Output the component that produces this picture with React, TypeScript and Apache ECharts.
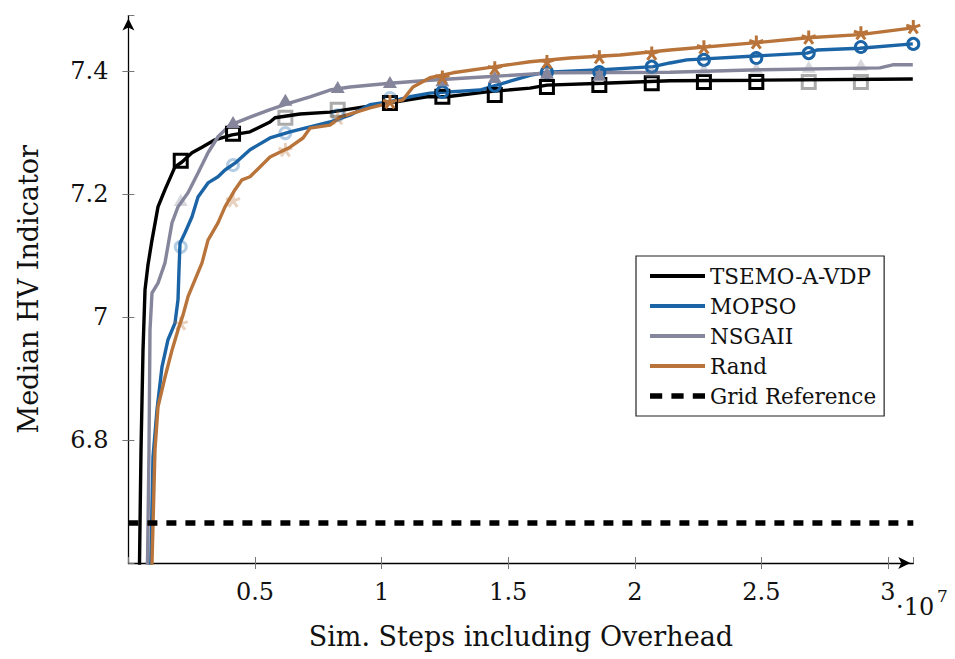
import React, { useEffect, useRef } from "react";
import * as echarts from "echarts";

// x values are in millions of simulation steps
const X_UNIT = 1e6;

const TSEMO_X = [0.419, 0.498, 0.577, 0.656, 0.774, 0.932, 1.169, 1.445, 1.84, 2.117, 2.512, 2.907, 3.42, 4.092, 4.803, 5.593, 5.79, 6.777, 7.961, 10.33, 11.79, 12.58, 14.16, 15.86, 16.53, 18.74, 21.39, 24.94, 30.98];
const TSEMO_Y = [6.54, 6.784, 6.946, 7.044, 7.085, 7.125, 7.179, 7.207, 7.244, 7.252, 7.267, 7.276, 7.288, 7.296, 7.301, 7.317, 7.324, 7.33, 7.333, 7.348, 7.358, 7.358, 7.366, 7.372, 7.377, 7.38, 7.384, 7.385, 7.387];

const MOPSO_X = [0.853, 0.972, 1.129, 1.327, 1.564, 1.84, 1.959, 1.998, 2.038, 2.235, 2.512, 2.749, 3.144, 3.539, 3.815, 4.21, 4.803, 5.593, 6.383, 7.172, 7.961, 8.751, 9.541, 10.33, 11.12, 11.91, 13.88, 14.55, 15.86, 16.53, 18.74, 20.72, 21.39, 22.06, 26.8, 27.19, 28.89, 30.98];
const MOPSO_Y = [6.54, 6.772, 6.849, 6.919, 6.963, 6.99, 7.028, 7.076, 7.12, 7.137, 7.163, 7.195, 7.218, 7.228, 7.239, 7.25, 7.272, 7.291, 7.301, 7.309, 7.317, 7.328, 7.345, 7.35, 7.358, 7.364, 7.369, 7.377, 7.393, 7.398, 7.402, 7.407, 7.413, 7.418, 7.429, 7.434, 7.437, 7.444];

const NSGA_X = [0.735, 0.814, 0.853, 0.932, 1.169, 1.445, 1.722, 1.959, 2.354, 2.749, 3.144, 3.539, 4.013, 4.803, 5.593, 6.383, 7.172, 7.961, 8.751, 10.33, 11.91, 13.49, 16.77, 21.39, 24.94, 29.68, 30.19, 30.98];
const NSGA_Y = [6.54, 6.784, 6.979, 7.039, 7.055, 7.088, 7.153, 7.179, 7.202, 7.234, 7.267, 7.293, 7.312, 7.325, 7.337, 7.348, 7.358, 7.369, 7.374, 7.38, 7.385, 7.389, 7.397, 7.398, 7.402, 7.405, 7.41, 7.41];

const RAND_X = [0.893, 1.05, 1.169, 1.445, 1.722, 1.959, 2.156, 2.354, 2.907, 3.144, 3.539, 3.815, 4.21, 4.487, 4.803, 5.593, 6.383, 6.896, 7.172, 7.961, 8.356, 9.541, 10.33, 10.84, 11.24, 11.91, 12.82, 14.16, 15.86, 17.44, 19.41, 21.39, 24.82, 26.84, 28.89, 30.98];
const RAND_Y = [6.54, 6.784, 6.854, 6.902, 6.946, 6.979, 7.003, 7.033, 7.088, 7.125, 7.153, 7.179, 7.207, 7.223, 7.228, 7.26, 7.276, 7.291, 7.307, 7.312, 7.325, 7.34, 7.348, 7.353, 7.374, 7.389, 7.397, 7.405, 7.415, 7.421, 7.426, 7.434, 7.446, 7.454, 7.459, 7.47];

const GRID_REF_Y = 6.665;

// marker positions (millions of steps)
const MARKER_X = [2.067, 4.133, 6.2, 8.267, 10.33, 12.4, 14.47, 16.53, 18.6, 20.67, 22.73, 24.8, 26.87, 28.93, 31.0];
const TSEMO_MK_Y = [7.254, 7.298, 7.324, 7.337, 7.348, 7.358, 7.361, 7.374, 7.377, 7.38, 7.382, 7.382, 7.382, 7.382];
const TSEMO_MK_ON = [1, 1, 0, 0, 1, 1, 1, 1, 1, 1, 1, 1, 0, 0];
const MOPSO_MK_Y = [7.114, 7.247, 7.299, 7.328, 7.356, 7.366, 7.376, 7.398, 7.398, 7.407, 7.418, 7.421, 7.429, 7.439, 7.444];
const MOPSO_MK_ON = [0, 0, 0, 0, 0, 1, 1, 1, 1, 1, 1, 1, 1, 1, 1];
const NSGA_MK_Y = [7.19, 7.317, 7.353, 7.374, 7.382, 7.385, 7.39, 7.397, 7.394, 7.4, 7.403, 7.405, 7.407, 7.41];
const NSGA_MK_ON = [0, 1, 1, 1, 1, 1, 1, 1, 1, 0, 0, 0, 0, 0];
const RAND_MK_Y = [6.99, 7.19, 7.272, 7.324, 7.35, 7.39, 7.405, 7.415, 7.423, 7.429, 7.439, 7.447, 7.455, 7.462, 7.472];
const RAND_MK_ON = [0, 0, 0, 0, 1, 1, 1, 1, 1, 1, 1, 1, 1, 1, 1];

const NAMES = ["TSEMO-A-VDP", "MOPSO", "NSGAII", "Rand", "Grid Reference"];
const COLORS = ["#000000", "#1b64a6", "#85859b", "#b8743a"];

const FONT = "DejaVu Serif";
const STAR = "path://M0 0L0 -10M0 0L9.51 -3.09M0 0L5.88 8.09M0 0L-5.88 8.09M0 0L-9.51 -3.09";
const ICON_SOLID = "path://M0 0H55V3.8H0Z";
const ICON_DASH = "path://M0 0H12V5.5H0ZM21 0H33V5.5H21ZM42 0H54V5.5H42Z";

export default function App() {
  const ref = useRef<HTMLDivElement>(null);
  useEffect(() => {
    const chart = echarts.init(ref.current!, null, { renderer: "svg" });
    const pts = (xs: number[], ys: number[]) => xs.map((x, i) => [x * X_UNIT, ys[i]]);
    const mk = (ys: number[], on: number[]) =>
      ys.map((y, i) => ({ value: [MARKER_X[i] * X_UNIT, y], itemStyle: { opacity: on[i] ? 1 : 0.33 } }));
    const line = (name: string, data: number[][], color: string) => ({
      name,
      type: "line",
      data,
      symbol: "none",
      showSymbol: false,
      lineStyle: { color, width: 3.4 },
      itemStyle: { color },
      clip: true,
    });
    const fmt = (v: number) => String(Math.round(v * 10) / 10);
    const xMax = 31e6;
    const tickFont = { fontFamily: FONT, fontSize: 24, color: "#111" };
    chart.setOption({
      animation: false,
      grid: { left: 128.4, right: 41.7, top: 15.6, bottom: 96 },
      legend: {
        data: NAMES.map((n, i) => ({ name: n, icon: i === 4 ? ICON_DASH : ICON_SOLID })),
        orient: "vertical",
        left: 636,
        top: 256,
        padding: [8, 8, 8, 14],
        itemWidth: 55,
        itemHeight: 14,
        itemGap: 6,
        borderColor: "#222",
        borderWidth: 1.2,
        selectedMode: false,
        textStyle: { fontFamily: FONT, fontSize: 21.5, color: "#111", lineHeight: 24 },
      },
      xAxis: [
        {
          type: "value",
          min: 0,
          max: xMax,
          interval: 5e6,
          splitLine: { show: false },
          axisLine: {
            lineStyle: { color: "#000", width: 1.3 },
            symbol: ["none", "arrow"],
            symbolSize: [9, 12],
            symbolOffset: [0, -3],
          },
          axisTick: { length: 6, lineStyle: { color: "#777", width: 1 } },
          axisLabel: {
            showMinLabel: false,
            showMaxLabel: false,
            margin: 17,
            ...tickFont,
            formatter: (v: number) => (v > 3.05e7 ? "" : fmt(v / 1e7)),
          },
          name: "Sim. Steps including Overhead",
          nameLocation: "middle",
          nameGap: 60,
          nameTextStyle: { fontFamily: FONT, fontSize: 27, color: "#111" },
        },
        {
          type: "value",
          position: "bottom",
          min: 0,
          max: xMax,
          interval: 5e6,
          splitLine: { show: false },
          axisLine: { show: false },
          axisTick: { inside: true, length: 6, lineStyle: { color: "#777", width: 1 } },
          axisLabel: { show: false },
        },
      ],
      yAxis: [
        {
          type: "value",
          min: 6.6,
          max: 7.49,
          interval: 0.2,
          splitLine: { show: false },
          axisLine: {
            show: true,
            lineStyle: { color: "#000", width: 1.3 },
            symbol: ["none", "arrow"],
            symbolSize: [9, 12],
            symbolOffset: [0, -3],
          },
          axisTick: { show: true, length: 6, lineStyle: { color: "#777", width: 1 } },
          axisLabel: {
            showMinLabel: false,
            showMaxLabel: false,
            margin: 20,
            ...tickFont,
            formatter: (v: number) => (v > 7.45 ? "" : fmt(v)),
          },
          name: "Median HV Indicator",
          nameLocation: "middle",
          nameGap: 86,
          nameTextStyle: { fontFamily: FONT, fontSize: 27, color: "#111" },
        },
        {
          type: "value",
          position: "left",
          min: 6.6,
          max: 7.49,
          interval: 0.2,
          splitLine: { show: false },
          axisLine: { show: false },
          axisTick: { show: true, inside: true, length: 6, lineStyle: { color: "#777", width: 1 } },
          axisLabel: { show: false },
        },
      ],
      graphic: [
        { type: "text", left: 896, top: 595, style: { text: "·10", fontFamily: FONT, fontSize: 24, fill: "#111" } },
        { type: "text", left: 937, top: 587, style: { text: "7", fontFamily: FONT, fontSize: 17, fill: "#111" } },
      ],
      series: [
        line(NAMES[0], pts(TSEMO_X, TSEMO_Y), COLORS[0]),
        {
          type: "scatter",
          data: mk(TSEMO_MK_Y, TSEMO_MK_ON),
          symbol: "rect",
          symbolSize: 13,
          itemStyle: { color: "rgba(0,0,0,0)", borderColor: COLORS[0], borderWidth: 3 },
          z: 3,
        },
        line(NAMES[1], pts(MOPSO_X, MOPSO_Y), COLORS[1]),
        {
          type: "scatter",
          data: mk(MOPSO_MK_Y, MOPSO_MK_ON),
          symbol: "circle",
          symbolSize: 11,
          itemStyle: { color: "rgba(0,0,0,0)", borderColor: COLORS[1], borderWidth: 3 },
          z: 3,
        },
        line(NAMES[2], pts(NSGA_X, NSGA_Y), COLORS[2]),
        {
          type: "scatter",
          data: mk(NSGA_MK_Y, NSGA_MK_ON),
          symbol: "triangle",
          symbolSize: [14, 12],
          itemStyle: { color: COLORS[2] },
          z: 3,
        },
        line(NAMES[3], pts(RAND_X, RAND_Y), COLORS[3]),
        {
          type: "scatter",
          data: mk(RAND_MK_Y, RAND_MK_ON),
          symbol: STAR,
          symbolSize: 14,
          symbolKeepAspect: true,
          itemStyle: { color: "rgba(0,0,0,0)", borderColor: COLORS[3], borderWidth: 3 },
          z: 3,
        },
        {
          name: NAMES[4],
          type: "line",
          data: [
            [0, GRID_REF_Y],
            [xMax, GRID_REF_Y],
          ],
          symbol: "none",
          showSymbol: false,
          lineStyle: { color: "#000", width: 5.5, type: [10, 9] },
          itemStyle: { color: "#000" },
          z: 4,
        },
      ],
    });
    return () => chart.dispose();
  }, []);
  return <div ref={ref} style={{ position: "absolute", left: 0, top: 0, width: 955, height: 659 }} />;
}
